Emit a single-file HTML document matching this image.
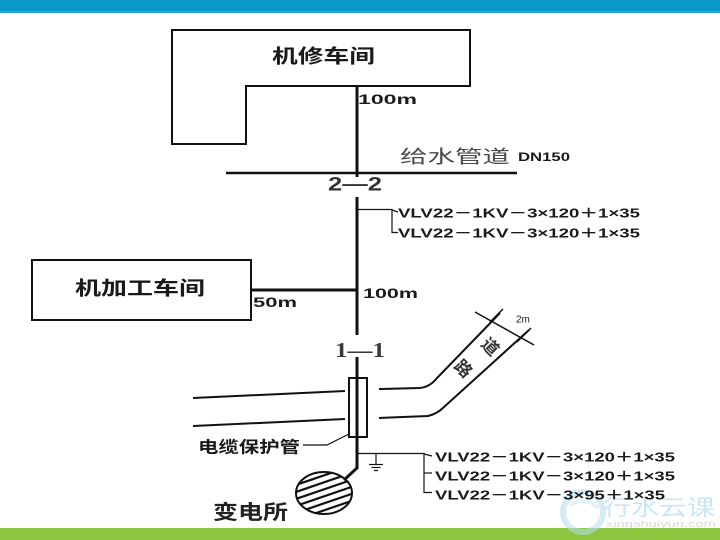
<!DOCTYPE html>
<html><head><meta charset="utf-8"><style>
html,body{margin:0;padding:0;background:#fff;}
svg{display:block;}
text{font-family:"Liberation Sans","Noto Sans CJK SC",sans-serif;}
</style></head><body>
<svg width="720" height="540" viewBox="0 0 720 540" xmlns="http://www.w3.org/2000/svg">
<rect x="0" y="0" width="720" height="540" fill="#fff"/>
<rect x="0" y="0" width="720" height="11" fill="#0a98c8"/>
<rect x="0" y="11" width="720" height="2" fill="#2aa6cf"/>
<rect x="0" y="528" width="720" height="12" fill="#8cc63f"/>

<!-- watermark -->
<g opacity="0.55">
<circle cx="583" cy="512" r="20" fill="none" stroke="#b5dcef" stroke-width="6"/>
<path d="M570 505 Q585 495 598 508" fill="none" stroke="#cfe8f5" stroke-width="4"/>
<text x="603" y="508" font-size="22" fill="#9fd3ee" dominant-baseline="central" textLength="112" lengthAdjust="spacingAndGlyphs">行水云课</text>
<text x="606" y="524" font-size="9" fill="#bbb" dominant-baseline="central" textLength="110" lengthAdjust="spacingAndGlyphs">xingshuiyun.com</text>
</g>

<g fill="none" stroke="#111" stroke-width="2">
<path d="M172 30 L470 30 L470 86 L246 86 L246 144 L172 144 Z"/>
<rect x="32" y="260" width="219" height="60"/>
</g>

<line x1="226" y1="173" x2="517" y2="173" stroke="#111" stroke-width="2.5"/>

<g stroke="#111" stroke-width="3" fill="none">
<line x1="357" y1="86" x2="357" y2="177"/>
<line x1="357" y1="197" x2="357" y2="335"/>
<line x1="251" y1="290" x2="357" y2="290"/>
<line x1="357" y1="357" x2="357" y2="378"/>
</g>

<g stroke="#111" stroke-width="1.2" fill="none">
<path d="M358 209.5 L392 209.5 L392 232.5 L398 232.5"/>
<line x1="392" y1="210" x2="398" y2="212"/>
</g>

<g stroke="#111" stroke-width="2" fill="none">
<line x1="193" y1="398" x2="345" y2="391"/>
<line x1="193" y1="426" x2="345" y2="419"/>
<path d="M379 389 L420 388 Q430 387 437 378 L500 313"/>
<path d="M379 418 L428 416 Q437 414 444 407 L529 330"/>
<line x1="475" y1="312" x2="534" y2="345" stroke-width="1.5"/>
<line x1="490" y1="322" x2="503" y2="309" stroke-width="1.5"/>
<line x1="517" y1="342" x2="531" y2="328" stroke-width="1.5"/>
</g>

<rect x="349" y="378" width="18" height="59" fill="#fff" stroke="#111" stroke-width="2"/>
<g stroke="#111" stroke-width="3" fill="none">
<path d="M357 378 L357 468 L344 480"/>
</g>
<path d="M303 445 L327 445 L349 434" fill="none" stroke="#111" stroke-width="1.2"/>

<defs><clipPath id="ec"><ellipse cx="324" cy="493" rx="28" ry="21"/></clipPath></defs>
<g clip-path="url(#ec)" stroke="#111" stroke-width="2.2">
<line x1="290" y1="487" x2="360" y2="463"/>
<line x1="290" y1="494" x2="360" y2="470"/>
<line x1="290" y1="501" x2="360" y2="477"/>
<line x1="290" y1="508" x2="360" y2="484"/>
<line x1="290" y1="515" x2="360" y2="491"/>
<line x1="290" y1="522" x2="360" y2="498"/>
<line x1="290" y1="529" x2="360" y2="505"/>
<line x1="290" y1="536" x2="360" y2="512"/>
</g>
<ellipse cx="324" cy="493" rx="28" ry="21" fill="none" stroke="#111" stroke-width="2"/>

<g stroke="#111" stroke-width="1.2" fill="none">
<path d="M358 453.5 L424 453.5 L424 492.5 L432 492.5"/>
<line x1="424" y1="473" x2="432" y2="473"/>
<line x1="424" y1="454" x2="432" y2="456"/>
<line x1="376" y1="454" x2="376" y2="464"/>
<line x1="369" y1="464.5" x2="383" y2="464.5"/>
<line x1="371.5" y1="467.5" x2="380.5" y2="467.5"/>
<line x1="374" y1="470.5" x2="378" y2="470.5"/>
</g>

<g fill="#1a1a1a" dominant-baseline="central">
<text x="272" y="57" font-size="19" font-weight="bold" textLength="103" lengthAdjust="spacingAndGlyphs">机修车间</text>
<text x="358" y="99" font-size="14" font-weight="bold" textLength="59" lengthAdjust="spacingAndGlyphs">100m</text>
<text x="400" y="157" font-size="18" fill="#4a4a4a" textLength="110" lengthAdjust="spacingAndGlyphs">给水管道</text>
<text x="518" y="157" font-size="12" font-weight="bold" textLength="52" lengthAdjust="spacingAndGlyphs">DN150</text>
<text x="328" y="185" font-size="19" font-weight="bold" fill="#333" textLength="54" lengthAdjust="spacingAndGlyphs">2—2</text>
<text x="398" y="213" font-size="13" font-weight="bold" textLength="242" lengthAdjust="spacingAndGlyphs">VLV22－1KV－3×120＋1×35</text>
<text x="398" y="233" font-size="13" font-weight="bold" textLength="242" lengthAdjust="spacingAndGlyphs">VLV22－1KV－3×120＋1×35</text>
<text x="75" y="289" font-size="19" font-weight="bold" textLength="130" lengthAdjust="spacingAndGlyphs">机加工车间</text>
<text x="253" y="302" font-size="14" font-weight="bold" textLength="44" lengthAdjust="spacingAndGlyphs">50m</text>
<text x="363" y="293" font-size="14" font-weight="bold" textLength="55" lengthAdjust="spacingAndGlyphs">100m</text>
<text x="335" y="350" font-size="21" font-weight="bold" fill="#3a3a3a" style="font-family:'Liberation Serif',serif" textLength="50" lengthAdjust="spacingAndGlyphs">1—1</text>
<text x="198" y="448" font-size="16" font-weight="bold" textLength="102" lengthAdjust="spacingAndGlyphs">电缆保护管</text>
<text x="213" y="513" font-size="20" font-weight="bold" fill="#222" textLength="75" lengthAdjust="spacingAndGlyphs">变电所</text>
<text x="516" y="320" font-size="10">2m</text>
<text x="490" y="347" font-size="17" font-weight="bold" fill="#333" text-anchor="middle" transform="rotate(45 490 347)">道</text>
<text x="463" y="369" font-size="17" font-weight="bold" fill="#333" text-anchor="middle" transform="rotate(45 463 369)">路</text>
<text x="435" y="457" font-size="13" font-weight="bold" textLength="240" lengthAdjust="spacingAndGlyphs">VLV22－1KV－3×120＋1×35</text>
<text x="435" y="476" font-size="13" font-weight="bold" textLength="240" lengthAdjust="spacingAndGlyphs">VLV22－1KV－3×120＋1×35</text>
<text x="435" y="495" font-size="13" font-weight="bold" textLength="230" lengthAdjust="spacingAndGlyphs">VLV22－1KV－3×95＋1×35</text>
</g>
</svg>
</body></html>
